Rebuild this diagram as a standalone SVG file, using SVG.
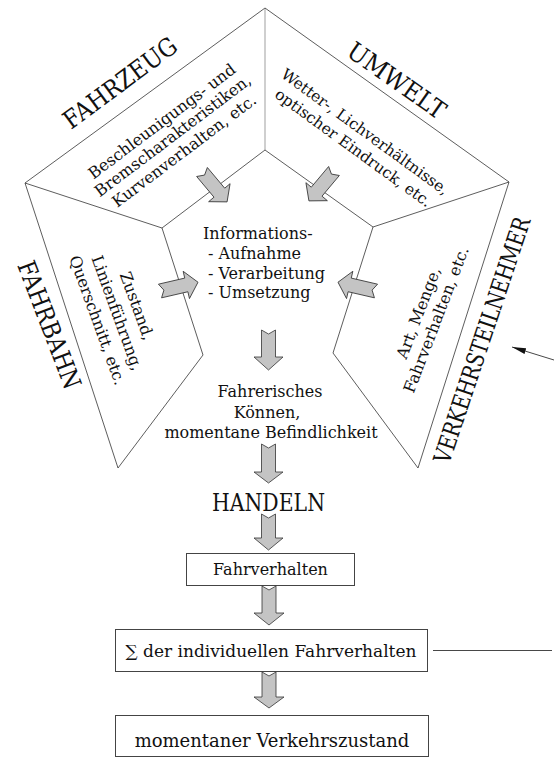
<svg xmlns="http://www.w3.org/2000/svg" xmlns:xlink="http://www.w3.org/1999/xlink" width="554" height="757" viewBox="0 0 554 757">
<style>
  text { font-family: "DejaVu Serif", "Liberation Serif", serif; fill: #111; }
  .big { font-size: 25px; }
  .mid { font-size: 16px; }
  .edge { fill: none; stroke: #333; stroke-width: 0.8; }
  .faint { fill: none; stroke: #777; stroke-width: 0.7; }
  .box { fill: #fff; stroke: #444; stroke-width: 1; }
  .garrow { fill: #c4c4c4; stroke: #333; stroke-width: 0.8; stroke-linejoin: miter; }
  .conn { fill: none; stroke: #333; stroke-width: 0.9; }
</style>
<defs>
  <path id="darrow" d="M -7,0 L 0,4 L 7,0 L 7,27 L 14,27 L 0,39 L -14,27 L -7,27 Z"/>
  <marker id="blackhead" viewBox="0 0 10 10" refX="10" refY="5" markerWidth="14" markerHeight="6" markerUnits="userSpaceOnUse" orient="auto" preserveAspectRatio="none">
    <path d="M0,0 L10,5 L0,10 Z" fill="#111"/>
  </marker>
</defs>

<g id="fahrzeug">
  <path class="edge" d="M 25,183 L 265,8"/>
  <path class="faint" d="M 265,8 L 265,150"/>
  <path class="edge" d="M 265,150 L 162,228 L 25,183"/>
  <text class="big" transform="translate(71,130) rotate(-36.5)" textLength="135" lengthAdjust="spacingAndGlyphs">FAHRZEUG</text>
  <g transform="translate(176,140) rotate(-37)" text-anchor="middle" class="mid">
    <text x="0" y="-18">Beschleunigungs- und</text>
    <text x="0" y="0">Bremscharakteristiken,</text>
    <text x="0" y="19">Kurvenverhalten, etc.</text>
  </g>
</g>

<g id="umwelt">
  <path class="edge" d="M 265,8 L 509,182 L 373,227 L 265,150"/>
  <text class="big" transform="translate(345,55) rotate(35)" textLength="114" lengthAdjust="spacingAndGlyphs">UMWELT</text>
  <g transform="translate(362,136) rotate(36)" text-anchor="middle" style="font-size:15.5px">
    <text x="0" y="0">Wetter-, Lichverhältnisse,</text>
    <text x="0" y="20">optischer Eindruck, etc.</text>
  </g>
</g>

<g id="fahrbahn">
  <path class="edge" d="M 25,183 L 118,468 L 203,355 L 162,228"/>
  <text class="big" transform="translate(17,265) rotate(69)" textLength="135" lengthAdjust="spacingAndGlyphs">FAHRBAHN</text>
  <g transform="translate(112,315) rotate(70)" text-anchor="middle" class="mid">
    <text x="0" y="-21">Zustand,</text>
    <text x="0" y="0">Linienführung,</text>
    <text x="0" y="21">Querschnitt, etc.</text>
  </g>
</g>

<g id="verkehrsteilnehmer">
  <path class="edge" d="M 509,182 L 418,468 L 333,353 L 373,227"/>
  <text transform="translate(449,465) rotate(-71.5) scale(0.8,1)" style="font-size:24px">VERKEHRSTEILNEHMER</text>
  <g transform="translate(432,318) rotate(-69)" text-anchor="middle" class="mid">
    <text x="0" y="-9">Art, Menge,</text>
    <text x="0" y="10">Fahrverhalten, etc.</text>
  </g>
</g>

<g id="information" class="mid">
  <text x="203" y="239">Informations-</text>
  <text x="208" y="259">- Aufnahme</text>
  <text x="208" y="279">- Verarbeitung</text>
  <text x="208" y="298">- Umsetzung</text>
</g>

<g id="koennen" class="mid" text-anchor="middle">
  <text x="270" y="397">Fahrerisches</text>
  <text x="267" y="418">Können,</text>
  <text x="271" y="438">momentane Befindlichkeit</text>
</g>

<g id="handeln">
  <text class="big" x="212" y="511" textLength="113" lengthAdjust="spacingAndGlyphs">HANDELN</text>
</g>

<g id="fahrverhalten">
  <rect class="box" x="186.5" y="553.5" width="168" height="32"/>
  <text class="mid" x="270.5" y="575" text-anchor="middle">Fahrverhalten</text>
</g>

<g id="summe">
  <rect class="box" x="115.5" y="629.5" width="312" height="42"/>
  <text x="271" y="657" text-anchor="middle" style="font-size:17px">∑ der individuellen Fahrverhalten</text>
</g>

<g id="verkehrszustand">
  <rect class="box" x="115.5" y="715.5" width="313" height="41"/>
  <text x="272" y="747" text-anchor="middle" style="font-size:18px">momentaner Verkehrszustand</text>
</g>

<g id="connectors">
  <use href="#darrow" xlink:href="#darrow" class="garrow" transform="translate(202,172) rotate(-40)"/>
  <use href="#darrow" xlink:href="#darrow" class="garrow" transform="translate(334,171) rotate(40)"/>
  <use href="#darrow" xlink:href="#darrow" class="garrow" transform="translate(160,291) rotate(-103)"/>
  <use href="#darrow" xlink:href="#darrow" class="garrow" transform="translate(376,291) rotate(103)"/>
  <path class="garrow" d="M 261.5,330 L 268.5,334 L 275.5,330 L 275.5,357 L 283,357 L 268.5,370 L 254,357 L 261.5,357 Z"/>
  <path class="garrow" d="M 261.5,444 L 268.5,448 L 275.5,444 L 275.5,472 L 283,472 L 268.5,483 L 254,472 L 261.5,472 Z"/>
  <path class="garrow" d="M 261.5,514 L 268.5,518 L 275.5,514 L 275.5,538 L 283,538 L 268.5,550 L 254,538 L 261.5,538 Z"/>
  <path class="garrow" d="M 262,586 L 269,590 L 276,586 L 276,613 L 284,613 L 269,625 L 254,613 L 262,613 Z"/>
  <path class="garrow" d="M 262,672 L 269,676 L 276,672 L 276,697 L 284,697 L 269,708 L 254,697 L 262,697 Z"/>
  <path class="conn" d="M 554,360 L 512,347" marker-end="url(#blackhead)"/>
  <path class="conn" d="M 433,650.5 L 552,650.5"/>
</g>
</svg>
